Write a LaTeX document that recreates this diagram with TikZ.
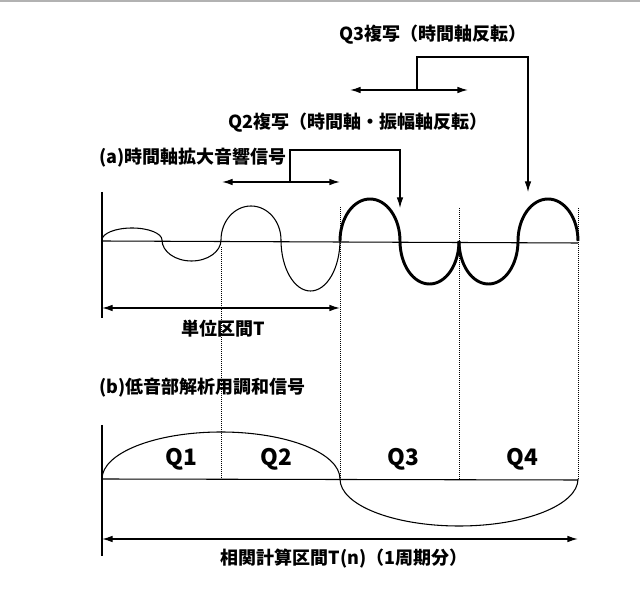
\documentclass[tikz,border=0pt]{standalone}
\usepackage{fontspec}
\setmainfont{Noto Sans CJK JP}
\usetikzlibrary{arrows.meta}

\begin{document}
\begin{tikzpicture}[x=0.75pt,y=0.75pt,yscale=-1,xscale=1,
  lbl/.style={inner sep=0.75pt,font=\fontsize{13.5}{15}\selectfont\bfseries},
  qlbl/.style={inner sep=0.75pt,font=\fontsize{17}{19}\selectfont\bfseries},
  dbl/.style={{Latex[length=8pt,width=5pt]}-{Latex[length=8pt,width=5pt]},line width=1pt},
  copyarrow/.style={-{Latex[length=8pt,width=5pt]},line width=0.9pt},
  guide/.style={densely dotted,line width=0.5pt},
  wave/.style={line width=0.8pt},
  thickwave/.style={line width=2.2pt}]
\useasboundingbox (0,0) rectangle (640,598);

%top border
\draw [gray!60,line width=1pt] (0,1) -- (640,1);

% Text Node
\node [lbl] (q3txt) at (433,35) {Q3複写（時間軸反転）};
\node [lbl] (q2txt) at (358,123) {Q2複写（時間軸・振幅軸反転）};
\node [lbl,anchor=west] (atxt) at (98,158) {(a)時間軸拡大音響信号};
\node [lbl] (unittxt) at (223,329) {単位区間T};
\node [lbl,anchor=west] (btxt) at (98,388) {(b)低音部解析用調和信号};
\node [lbl] (corrtxt) at (344,559) {相関計算区間T(n)（1周期分）};
\node [qlbl] (q1) at (181,459) {Q1};
\node [qlbl] (q2) at (276,459) {Q2};
\node [qlbl] (q3) at (403,459) {Q3};
\node [qlbl] (q4) at (522,459) {Q4};

% Guides
\draw [line width=0.8pt] (102,192) -- (102,318);
\draw [line width=0.8pt] (102,425) -- (102,556);
\draw [guide] (221,247) -- (221,479);
\draw [guide] (340,207) -- (340,479);
\draw [guide] (459,208) -- (459,479);
\draw [guide] (578,208) -- (578,479);

% (a) signal
\draw [line width=0.8pt] (102,241) -- (578,243);
\draw [wave] (102,240) arc[start angle=180,end angle=360,x radius=30,y radius=12]
  arc[start angle=180,end angle=0,x radius=29.5,y radius=21]
  arc[start angle=180,end angle=360,x radius=30,y radius=34]
  arc[start angle=180,end angle=0,x radius=29.5,y radius=51];
\draw [thickwave] (340,241) arc[start angle=180,end angle=360,x radius=30,y radius=42]
  arc[start angle=180,end angle=0,x radius=29.5,y radius=43];
\draw [thickwave] (459,241) arc[start angle=180,end angle=0,x radius=29.5,y radius=43]
  arc[start angle=180,end angle=360,x radius=30,y radius=42];

% (b) signal
\draw [line width=0.8pt] (102,479) -- (578,480);
\draw [line width=0.8pt] (102,479) arc[start angle=180,end angle=360,x radius=119,y radius=47];
\draw [line width=0.8pt] (340,479) arc[start angle=180,end angle=0,x radius=119,y radius=47];

% Connection
\coordinate (q2l) at (222,182);
\coordinate (q2r) at (340,182);
\coordinate (q2tip) at (400,208);
\coordinate (q3l) at (350,90);
\coordinate (q3r) at (468,90);
\coordinate (q3tip) at (528,192);
\coordinate (unitl) at (102,308);
\coordinate (unitr) at (340,308);
\coordinate (corrl) at (102,539);
\coordinate (corrr) at (578,539);
\draw [dbl] (q2l) -- (q2r);
\draw [copyarrow] (290,182) -- (290,150) -| (q2tip);
\draw [dbl] (q3l) -- (q3r);
\draw [copyarrow] (417,90) -- (417,57) -| (q3tip);
\draw [dbl] (unitl) -- (unitr);
\draw [dbl] (corrl) -- (corrr);

\end{tikzpicture}
\end{document}
